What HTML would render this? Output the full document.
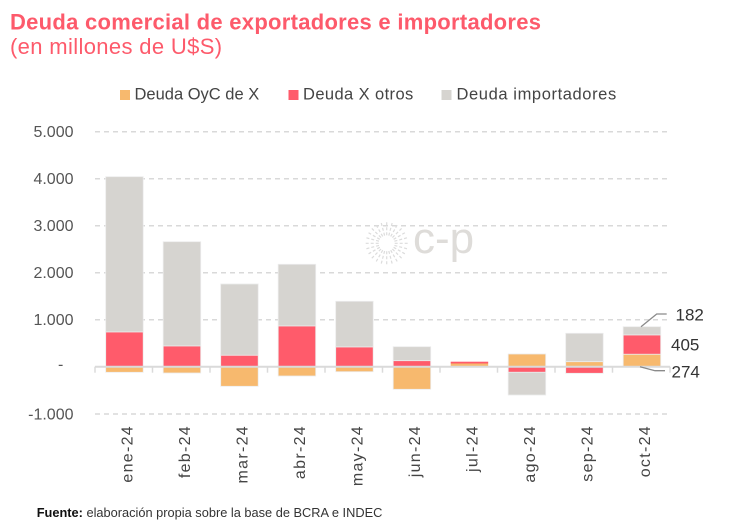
<!DOCTYPE html>
<html><head><meta charset="utf-8"><style>
html,body{margin:0;padding:0;background:#fff;}
svg{display:block;font-family:"Liberation Sans",Arial,sans-serif;}
</style></head><body>
<svg width="730" height="525" viewBox="0 0 730 525" xmlns="http://www.w3.org/2000/svg">
<rect width="730" height="525" fill="#fff"/>
<!-- Title -->
<text x="10" y="29.5" font-size="22" font-weight="bold" fill="#fd5a6b" letter-spacing="0.28">Deuda comercial de exportadores e importadores</text>
<text x="10" y="54" font-size="22" fill="#fd5a6b" letter-spacing="0.35">(en millones de U$S)</text>
<!-- Legend -->
<rect x="120" y="90" width="10" height="10" fill="#f7b96e"/>
<text x="134.5" y="99.5" font-size="16.5" fill="#444">Deuda OyC de X</text>
<rect x="288.5" y="90" width="10" height="10" fill="#ff5b6b"/>
<text x="303" y="99.5" font-size="16.5" fill="#444" letter-spacing="0.4">Deuda X otros</text>
<rect x="441.5" y="90" width="10" height="10" fill="#d6d4d0"/>
<text x="456.5" y="99.5" font-size="16.5" fill="#444" letter-spacing="0.6">Deuda importadores</text>
<!-- Gridlines -->
<g stroke="#d9d9d9" stroke-width="1.5" stroke-dasharray="5 4">
<line x1="95" y1="131.7" x2="670" y2="131.7"/>
<line x1="95" y1="178.7" x2="670" y2="178.7"/>
<line x1="95" y1="225.7" x2="670" y2="225.7"/>
<line x1="95" y1="272.7" x2="670" y2="272.7"/>
<line x1="95" y1="319.7" x2="670" y2="319.7"/>
<line x1="95" y1="414" x2="670" y2="414"/>
</g>
<!-- Y labels -->
<g font-size="16" fill="#555" text-anchor="end">
<text x="73.5" y="137">5.000</text>
<text x="73.5" y="184">4.000</text>
<text x="73.5" y="231">3.000</text>
<text x="73.5" y="278">2.000</text>
<text x="73.5" y="325">1.000</text>
<text x="73.5" y="419.5">-1.000</text>
</g>
<text x="60.7" y="369.5" font-size="16" fill="#555" text-anchor="middle">-</text>
<!-- Watermark -->
<g stroke="#dcdcdc" stroke-width="1.2" stroke-dasharray="3 2">
<line x1="394.7" y1="243.3" x2="408.7" y2="243.3"/>
<line x1="394.4" y1="245.4" x2="407.9" y2="249.0"/>
<line x1="393.6" y1="247.3" x2="405.7" y2="254.3"/>
<line x1="392.4" y1="249.0" x2="402.3" y2="258.9"/>
<line x1="390.7" y1="250.2" x2="397.7" y2="262.4"/>
<line x1="388.8" y1="251.0" x2="392.4" y2="264.6"/>
<line x1="386.7" y1="251.3" x2="386.7" y2="265.3"/>
<line x1="384.6" y1="251.0" x2="381.0" y2="264.6"/>
<line x1="382.7" y1="250.2" x2="375.7" y2="262.4"/>
<line x1="381.0" y1="249.0" x2="371.1" y2="258.9"/>
<line x1="379.8" y1="247.3" x2="367.7" y2="254.3"/>
<line x1="379.0" y1="245.4" x2="365.5" y2="249.0"/>
<line x1="378.7" y1="243.3" x2="364.7" y2="243.3"/>
<line x1="379.0" y1="241.2" x2="365.5" y2="237.6"/>
<line x1="379.8" y1="239.3" x2="367.7" y2="232.3"/>
<line x1="381.0" y1="237.6" x2="371.1" y2="227.7"/>
<line x1="382.7" y1="236.4" x2="375.7" y2="224.2"/>
<line x1="384.6" y1="235.6" x2="381.0" y2="222.0"/>
<line x1="386.7" y1="235.3" x2="386.7" y2="221.3"/>
<line x1="388.8" y1="235.6" x2="392.4" y2="222.0"/>
<line x1="390.7" y1="236.4" x2="397.7" y2="224.2"/>
<line x1="392.4" y1="237.6" x2="402.3" y2="227.7"/>
<line x1="393.6" y1="239.3" x2="405.7" y2="232.3"/>
<line x1="394.4" y1="241.2" x2="407.9" y2="237.6"/>
</g>
<text x="413" y="253" font-size="44" fill="#dedcd9">c-p</text>
<!-- Bars -->
<g stroke="#ececec" stroke-width="0.8">
<!-- ene -->
<rect x="105.7" y="176.7" width="37.5" height="155.3" fill="#d6d4d0"/>
<rect x="105.7" y="332" width="37.5" height="34.7" fill="#ff5b6b"/>
<rect x="105.7" y="366.7" width="37.5" height="5.6" fill="#f7b96e"/>
<!-- feb -->
<rect x="163.2" y="241.7" width="37.5" height="104.3" fill="#d6d4d0"/>
<rect x="163.2" y="346" width="37.5" height="20.7" fill="#ff5b6b"/>
<rect x="163.2" y="366.7" width="37.5" height="6.3" fill="#f7b96e"/>
<!-- mar -->
<rect x="220.7" y="284" width="37.5" height="71.3" fill="#d6d4d0"/>
<rect x="220.7" y="355.3" width="37.5" height="11.4" fill="#ff5b6b"/>
<rect x="220.7" y="366.7" width="37.5" height="19.6" fill="#f7b96e"/>
<!-- abr -->
<rect x="278.2" y="264.3" width="37.5" height="61.7" fill="#d6d4d0"/>
<rect x="278.2" y="326" width="37.5" height="40.7" fill="#ff5b6b"/>
<rect x="278.2" y="366.7" width="37.5" height="9.3" fill="#f7b96e"/>
<!-- may -->
<rect x="335.7" y="301.3" width="37.5" height="45.7" fill="#d6d4d0"/>
<rect x="335.7" y="347" width="37.5" height="19.7" fill="#ff5b6b"/>
<rect x="335.7" y="366.7" width="37.5" height="5" fill="#f7b96e"/>
<!-- jun -->
<rect x="393.2" y="346.7" width="37.5" height="14" fill="#d6d4d0"/>
<rect x="393.2" y="360.7" width="37.5" height="6" fill="#ff5b6b"/>
<rect x="393.2" y="366.7" width="37.5" height="22.6" fill="#f7b96e"/>
<!-- jul -->
<rect x="450.7" y="361.7" width="37.5" height="1.8" fill="#ff5b6b" stroke="none"/>
<rect x="450.7" y="363.5" width="37.5" height="3.2" fill="#f7b96e" stroke="none"/>
<!-- ago -->
<rect x="508.2" y="354" width="37.5" height="12.7" fill="#f7b96e"/>
<rect x="508.2" y="366.7" width="37.5" height="5.6" fill="#ff5b6b"/>
<rect x="508.2" y="372.3" width="37.5" height="22.7" fill="#d6d4d0"/>
<!-- sep -->
<rect x="565.7" y="333.3" width="37.5" height="28.4" fill="#d6d4d0"/>
<rect x="565.7" y="361.7" width="37.5" height="5" fill="#f7b96e"/>
<rect x="565.7" y="366.7" width="37.5" height="6.6" fill="#ff5b6b"/>
<!-- oct -->
<rect x="623.2" y="326.7" width="37.5" height="8.3" fill="#d6d4d0"/>
<rect x="623.2" y="335" width="37.5" height="19.3" fill="#ff5b6b"/>
<rect x="623.2" y="354.3" width="37.5" height="12.4" fill="#f7b96e"/>
</g>
<!-- Zero axis -->
<line x1="95" y1="366.7" x2="670" y2="366.7" stroke="#dadada" stroke-width="2"/>
<g stroke="#dadada" stroke-width="1.5">
<line x1="95" y1="366.7" x2="95" y2="372.7"/>
<line x1="152.5" y1="366.7" x2="152.5" y2="372.7"/>
<line x1="210" y1="366.7" x2="210" y2="372.7"/>
<line x1="267.5" y1="366.7" x2="267.5" y2="372.7"/>
<line x1="325" y1="366.7" x2="325" y2="372.7"/>
<line x1="382.5" y1="366.7" x2="382.5" y2="372.7"/>
<line x1="440" y1="366.7" x2="440" y2="372.7"/>
<line x1="497.5" y1="366.7" x2="497.5" y2="372.7"/>
<line x1="555" y1="366.7" x2="555" y2="372.7"/>
<line x1="612.5" y1="366.7" x2="612.5" y2="372.7"/>
<line x1="670" y1="366.7" x2="670" y2="372.7"/>
</g>
<!-- Annotations -->
<g stroke="#8a8a8a" stroke-width="1.3" fill="none">
<polyline points="641,326.7 656.7,314 666.7,314"/>
<polyline points="640,366.7 655,370.7 665,370.7"/>
</g>
<g font-size="17" fill="#333">
<text x="675.5" y="320.7">182</text>
<text x="671" y="350.7">405</text>
<text x="671.5" y="377.3">274</text>
</g>
<!-- X labels -->
<g font-size="16" fill="#444" text-anchor="end" letter-spacing="1.3">
<text transform="translate(132.3,425) rotate(-90)">ene-24</text>
<text transform="translate(189.8,425) rotate(-90)">feb-24</text>
<text transform="translate(247.3,425) rotate(-90)">mar-24</text>
<text transform="translate(304.8,425) rotate(-90)">abr-24</text>
<text transform="translate(362.3,425) rotate(-90)">may-24</text>
<text transform="translate(419.8,425) rotate(-90)">jun-24</text>
<text transform="translate(477.3,425) rotate(-90)">jul-24</text>
<text transform="translate(534.8,425) rotate(-90)">ago-24</text>
<text transform="translate(592.3,425) rotate(-90)">sep-24</text>
<text transform="translate(649.8,425) rotate(-90)">oct-24</text>
</g>
<!-- Footer -->
<text x="36.7" y="517" font-size="12.8" fill="#333"><tspan font-weight="bold" fill="#111">Fuente:</tspan> elaboración propia sobre la base de BCRA e INDEC</text>
</svg>
</body></html>
